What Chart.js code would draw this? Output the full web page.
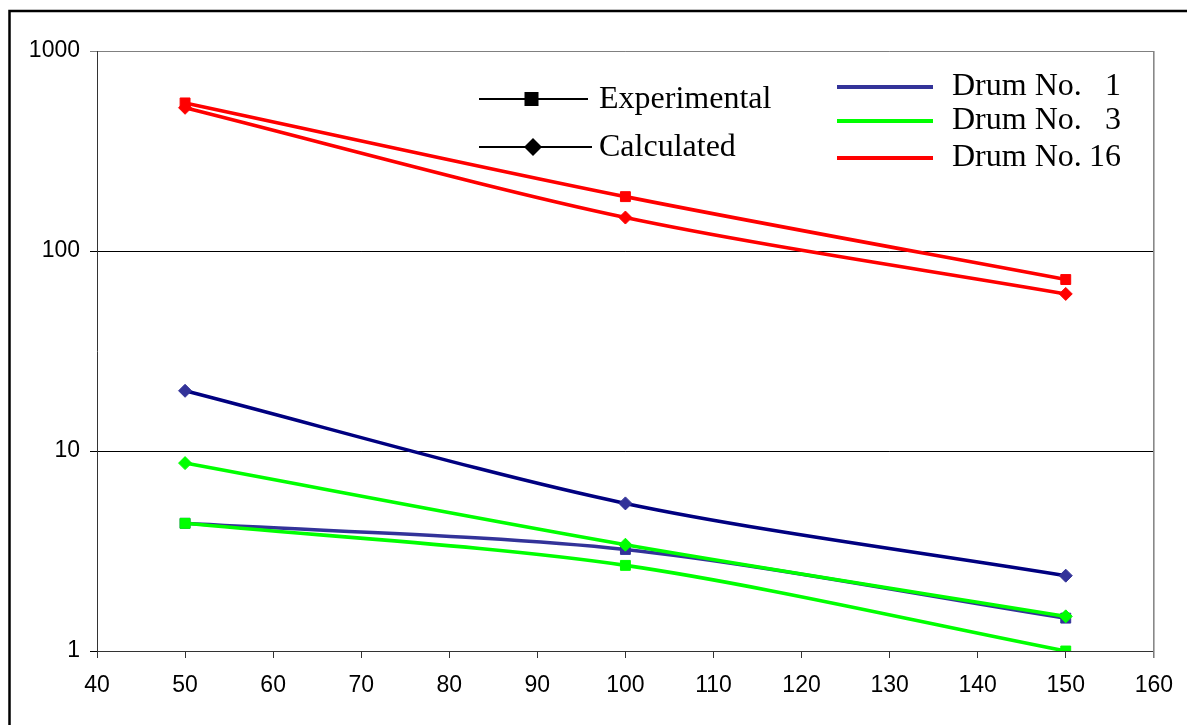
<!DOCTYPE html>
<html>
<head>
<meta charset="utf-8">
<script src="https://cdn.jsdelivr.net/npm/chart.js@4.4.1/dist/chart.umd.min.js"></script>
<style>
  html, body { margin: 0; padding: 0; background: #fff; }
  #c { display: block; }
</style>
</head>
<body>
<canvas id="c" width="1187" height="725"></canvas>
<script>
// ---- Data ----
const xValues   = [50, 100, 150];
const drum1Exp  = [4.35, 3.22, 1.46];
const drum1Calc = [20.0, 5.47, 2.38];
const drum3Exp  = [4.35, 2.68, 1.0];
const drum3Calc = [8.7, 3.4, 1.49];
const drum16Exp = [550, 187, 72];
const drum16Calc = [520, 147, 61];
const yTickValues = [1, 10, 100, 1000];
const xMin = 40, xMax = 160, xStep = 10;
const typeLabels = ['Experimental', 'Calculated'];
const drumLabels = ['Drum No.', 'Drum No.', 'Drum No.'];
const drumNumbers = ['1', '3', '16'];

const pts = arr => arr.map((v, i) => ({ x: xValues[i], y: v }));

function ds(label, data, line, marker, style, order) {
  return {
    label, data: pts(data),
    borderColor: line, borderWidth: 3.6,
    backgroundColor: marker, pointBackgroundColor: marker, pointBorderColor: marker,
    pointStyle: style, pointRadius: style === 'rect' ? 7 : 6.5, pointBorderWidth: 1,
    tension: 0.3, fill: false, order
  };
}

const datasets = [
  ds('Drum 16 Exp', drum16Exp, '#FF0000', '#FF0000', 'rect', 1),
  ds('Drum 16 Calc', drum16Calc, '#FF0000', '#FF0000', 'rectRot', 2),
  ds('Drum 3 Exp', drum3Exp, '#00FF00', '#00FF00', 'rect', 3),
  ds('Drum 3 Calc', drum3Calc, '#00FF00', '#00FF00', 'rectRot', 4),
  ds('Drum 1 Exp', drum1Exp, '#333399', '#333399', 'rect', 5),
  ds('Drum 1 Calc', drum1Calc, '#000080', '#333399', 'rectRot', 6)
];

const framePlugin = {
  id: 'frame',
  beforeDraw(chart) {
    const ctx = chart.ctx;
    ctx.save();
    ctx.fillStyle = '#fff';
    ctx.fillRect(0, 0, chart.width, chart.height);
    ctx.strokeStyle = '#000';
    ctx.lineWidth = 2.5;
    ctx.strokeRect(9.5, 11, 1300, 800);
    ctx.restore();
  },
  afterDatasetsDraw(chart) {
    const ctx = chart.ctx;
    const a = chart.chartArea;
    ctx.save();
    // right border of the plot area
    ctx.strokeStyle = '#808080';
    ctx.lineWidth = 1.5;
    ctx.beginPath();
    ctx.moveTo(a.right, a.top);
    ctx.lineTo(a.right, a.bottom + 7);
    ctx.stroke();

    // legend 1: marker types
    const l1y = [99, 147];
    ctx.strokeStyle = '#000';
    ctx.fillStyle = '#000';
    ctx.lineWidth = 2;
    ctx.beginPath(); ctx.moveTo(479, l1y[0]); ctx.lineTo(588, l1y[0]); ctx.stroke();
    ctx.fillRect(531.5 - 7, l1y[0] - 7, 14, 14);
    ctx.beginPath(); ctx.moveTo(479, l1y[1]); ctx.lineTo(592, l1y[1]); ctx.stroke();
    ctx.beginPath();
    ctx.moveTo(533, l1y[1] - 9); ctx.lineTo(542, l1y[1]); ctx.lineTo(533, l1y[1] + 9); ctx.lineTo(524, l1y[1]);
    ctx.closePath(); ctx.fill();
    ctx.font = '32px "Liberation Serif", "Times New Roman", serif';
    ctx.textBaseline = 'alphabetic';
    ctx.textAlign = 'left';
    ctx.fillText(typeLabels[0], 599, l1y[0] + 8.5);
    ctx.fillText(typeLabels[1], 599, l1y[1] + 8.5);

    // legend 2: drums
    const l2y = [87, 121, 158];
    const l2c = ['#333399', '#00FF00', '#FF0000'];
    ctx.lineWidth = 4;
    for (let i = 0; i < 3; i++) {
      ctx.strokeStyle = l2c[i];
      ctx.beginPath(); ctx.moveTo(837, l2y[i]); ctx.lineTo(933, l2y[i]); ctx.stroke();
      ctx.fillStyle = '#000';
      ctx.textAlign = 'left';
      ctx.fillText(drumLabels[i], 952, l2y[i] + 8);
      ctx.textAlign = 'right';
      ctx.fillText(drumNumbers[i], 1121, l2y[i] + 8);
    }
    ctx.restore();
  }
};

new Chart(document.getElementById('c'), {
  type: 'line',
  data: { datasets },
  options: {
    responsive: false,
    animation: false,
    layout: { padding: { left: 0, top: 51, right: 33, bottom: 0 } },
    plugins: { legend: { display: false }, tooltip: { enabled: false } },
    scales: {
      x: {
        type: 'linear', min: xMin, max: xMax,
        ticks: { stepSize: xStep, color: '#000', font: { family: '"Liberation Sans", Arial, sans-serif', size: 23 }, padding: 14, maxRotation: 0 },
        grid: { drawOnChartArea: false, drawTicks: true, tickLength: 7, color: '#333' },
        border: { color: '#333', width: 1 },
        afterFit(s) { s.height = 74; }
      },
      y: {
        type: 'logarithmic', min: 1, max: 1000,
        afterBuildTicks(s) { s.ticks = yTickValues.map(v => ({ value: v })); },
        ticks: { color: '#000', font: { family: '"Liberation Sans", Arial, sans-serif', size: 23 }, padding: 10,
          callback: v => String(v) },
        grid: { drawTicks: true, tickLength: 7,
          color: c => (c.tick && c.tick.value === 1000) ? '#808080' : '#000', lineWidth: 1 },
        border: { color: '#333', width: 1 },
        afterFit(s) { s.width = 97; }
      }
    }
  },
  plugins: [framePlugin]
});
</script>
</body>
</html>
